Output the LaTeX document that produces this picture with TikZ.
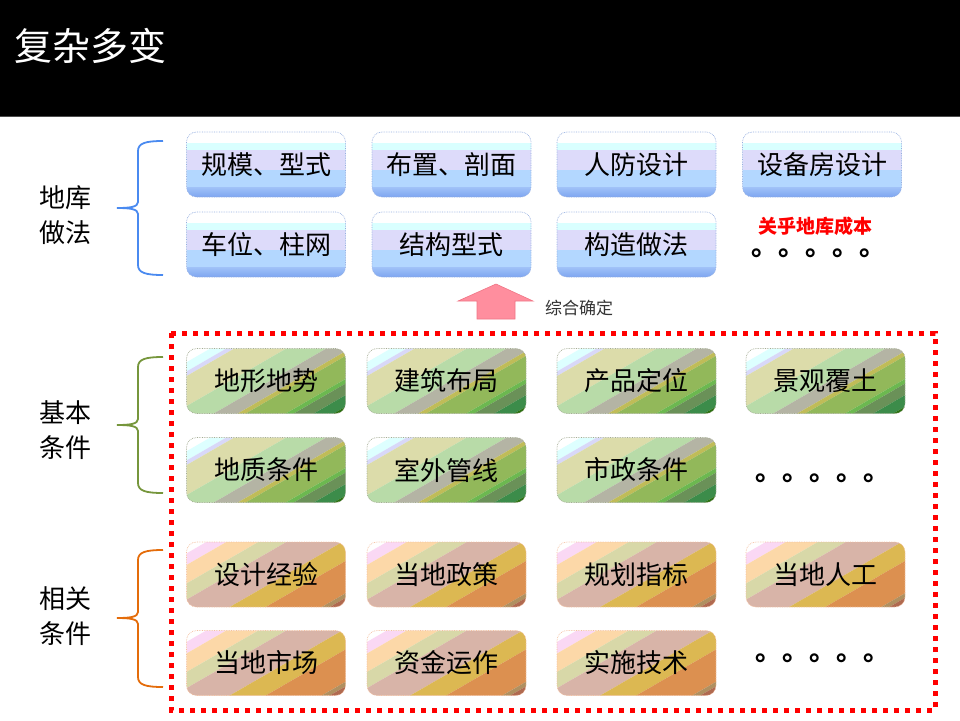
\documentclass[tikz,border=0pt]{standalone}
\usepackage{fontspec}
\newfontfamily\cjk{Noto Sans CJK SC}
\usetikzlibrary{calc}
\definecolor{bwhite}{HTML}{FFFFFF}
\definecolor{bcyan}{HTML}{D9FFFF}
\definecolor{blav}{HTML}{DDDBFA}
\definecolor{blight}{HTML}{B3D7FF}
\definecolor{bmidA}{HTML}{A0C2F8}
\definecolor{bmidB}{HTML}{7CA4F0}
\definecolor{bborder}{HTML}{94AEE0}
\definecolor{gcyan}{HTML}{DDFFFF}
\definecolor{glav}{HTML}{D8D8F8}
\definecolor{gbeige}{HTML}{DCDCAA}
\definecolor{glgreen}{HTML}{B8DBA8}
\definecolor{ggray}{HTML}{B4B4A4}
\definecolor{golive}{HTML}{C0BC58}
\definecolor{ggreen}{HTML}{92B85A}
\definecolor{gbright}{HTML}{6CB850}
\definecolor{ggraygreen}{HTML}{6A9158}
\definecolor{gdark}{HTML}{3C8C4A}
\definecolor{gdarkest}{HTML}{2A7010}
\definecolor{gborder}{HTML}{A4AC94}
\definecolor{opink}{HTML}{FAD8F4}
\definecolor{opeach}{HTML}{FCD8A8}
\definecolor{okhaki}{HTML}{D8D8A8}
\definecolor{omauve}{HTML}{D8B4A8}
\definecolor{ogold}{HTML}{DCB852}
\definecolor{oorange}{HTML}{DC9050}
\definecolor{obrown}{HTML}{B09060}
\definecolor{ored}{HTML}{B06A50}
\definecolor{oborder}{HTML}{F4C0A0}
\definecolor{bracketblue}{HTML}{4A8AF0}
\definecolor{bracketgreen}{HTML}{76963C}
\definecolor{bracketorange}{HTML}{E46C0A}
\definecolor{arrowfill}{HTML}{FF8E9E}
\definecolor{arrowline}{HTML}{F07585}
\definecolor{labelgray}{HTML}{333333}
\tikzset{
  boxbase/.style={rounded corners=10pt, minimum width=159pt, minimum height=65pt,
    inner sep=0pt, densely dotted, line width=0.7pt,
    font=\cjk\fontsize{26}{30}\selectfont, text=black},
  blueframe/.style={boxbase, draw=bborder},
  greenframe/.style={boxbase, draw=gborder},
  orangeframe/.style={boxbase, draw=oborder},
  sidelabel/.style={font=\cjk\fontsize{26}{35}\selectfont, align=center, inner sep=0pt, text=black},
  dots/.style={font=\cjk\bfseries\fontsize{27}{30}\selectfont, inner sep=0pt, anchor=base west,
    text height=6pt, text depth=0pt},
  bracketline/.style={line width=1.8pt},
}
\newcommand\clipbox[2]{\clip[rounded corners=10pt] ($(#1,#2)+(-79.5,32.5)$) rectangle ($(#1,#2)+(79.5,-32.5)$);}
\newcommand\bluebox[4]{% name, cx, cy, text
  \begin{scope}
    \clipbox{#2}{#3}
    \begin{scope}[shift={(#2,#3)}]
      \fill[bwhite] (-90,32.5) rectangle (90,21.5);
      \fill[bcyan] (-90,21.5) rectangle (90,14.5);
      \fill[blav] (-90,14.5) rectangle (90,-5.5);
      \fill[blight] (-90,-5.5) rectangle (90,-22.5);
      \shade[top color=bmidA, bottom color=bmidB] (-90,-22.5) rectangle (90,-33);
    \end{scope}
  \end{scope}
  \node[blueframe] (#1) at (#2,#3) {\raisebox{-4pt}{#4}};}
\newcommand\greenbox[4]{%
  \begin{scope}
    \clipbox{#2}{#3}
    \begin{scope}[shift={(#2,#3)},rotate=-60]
      \foreach \a/\b/\c in {-90/-56/bwhite,-56/-48/gcyan,-48/-44/glav,-44/-18/gbeige,
        -18/2/glgreen,2/14/ggray,14/18/golive,18/38/ggreen,38/42/gbright,
        42/52/ggraygreen,52/62/gdark,62/90/gdarkest}
        \fill[\c] (\a,-120) rectangle (\b,120);
    \end{scope}
  \end{scope}
  \node[greenframe] (#1) at (#2,#3) {\raisebox{-2pt}{#4}};}
\newcommand\orangebox[4]{%
  \begin{scope}
    \clipbox{#2}{#3}
    \begin{scope}[shift={(#2,#3)},rotate=-60]
      \foreach \a/\b/\c in {-90/-58/bwhite,-58/-48/opink,-48/-32/opeach,-32/-18/okhaki,
        -18/10/omauve,10/28/ogold,28/56/oorange,56/60/obrown,60/90/ored}
        \fill[\c] (\a,-120) rectangle (\b,120);
    \end{scope}
  \end{scope}
  \node[orangeframe] (#1) at (#2,#3) {\raisebox{-2pt}{#4}};}
\newcommand\mybrace[4]{% color, top, tip, bottom
  \draw[bracketline, #1] (163,-#2) .. controls (146,-#2) and (138,-#2-2) .. (138,-#2-10)
    -- ($(138,-#3)+(0,6)$) .. controls ($(138,-#3)+(0,1)$) and ($(130,-#3)$) .. (117,-#3)
    .. controls (130,-#3) and ($(138,-#3)+(0,-1)$) .. ($(138,-#3)+(0,-6)$)
    -- (138,-#4+10) .. controls (138,-#4+2) and (146,-#4) .. (163,-#4);}
\begin{document}
\begin{tikzpicture}[x=1pt,y=1pt]
\useasboundingbox (0,0) rectangle (960,-720);
% header
\fill[black] (0,0) rectangle (960,-116);
\draw[black!70, line width=1pt] (0,-116.5) -- (960,-116.5);
\node[anchor=west, text=white, font=\cjk\fontsize{38}{42}\selectfont, inner sep=0pt] (title) at (14,-46) {复杂多变};
% top blue boxes
\bluebox{b1}{266}{-164.5}{规模、型式}
\bluebox{b2}{451.5}{-164.5}{布置、剖面}
\bluebox{b3}{636.5}{-164.5}{人防设计}
\bluebox{b4}{822}{-164.5}{设备房设计}
\bluebox{b5}{266}{-244.5}{车位、柱网}
\bluebox{b6}{451.5}{-244.5}{结构型式}
\bluebox{b7}{636.5}{-244.5}{构造做法}
\node[text=red, font=\cjk\bfseries\fontsize{19}{22}\selectfont, inner sep=0pt,
  anchor=base, text height=15pt, text depth=2pt] (cost) at (815,-233) {关乎地库成本};
\node[dots] (dots1) at (751,-255) {。。。。。};
% arrow
\draw[fill=arrowfill, draw=arrowline, line width=0.6pt] (496,-284) -- (533,-301) -- (515,-301) -- (515,-319) -- (477,-319) -- (477,-301) -- (458,-301) -- cycle;
\node[anchor=west, text=labelgray, font=\cjk\fontsize{17}{20}\selectfont, inner sep=0pt] (decide) at (545,-308) {综合确定};
% red dotted frame
\draw[red, line width=5pt, dash pattern=on 5pt off 6pt] (171,-333) rectangle (935,-710);
% green boxes
\greenbox{g1}{266}{-381}{地形地势}
\greenbox{g2}{446.5}{-381}{建筑布局}
\greenbox{g3}{636.5}{-381}{产品定位}
\greenbox{g4}{825.5}{-381}{景观覆土}
\greenbox{g5}{266}{-470}{地质条件}
\greenbox{g6}{446.5}{-470}{室外管线}
\greenbox{g7}{636.5}{-470}{市政条件}
\node[dots] (dots2) at (755,-480) {。。。。。};
% orange boxes
\orangebox{o1}{266}{-574.5}{设计经验}
\orangebox{o2}{446.5}{-574.5}{当地政策}
\orangebox{o3}{636.5}{-574.5}{规划指标}
\orangebox{o4}{825.5}{-574.5}{当地人工}
\orangebox{o5}{266}{-663}{当地市场}
\orangebox{o6}{446.5}{-663}{资金运作}
\orangebox{o7}{636.5}{-663}{实施技术}
\node[dots] (dots3) at (755,-660) {。。。。。};
% side labels
\node[sidelabel] (l1) at (65,-215.5) {地库\\做法};
\node[sidelabel] (l2) at (65,-430) {基本\\条件};
\node[sidelabel] (l3) at (65,-616.5) {相关\\条件};
% brackets
\mybrace{bracketblue}{141}{208}{275}
\mybrace{bracketgreen}{357}{425}{493}
\mybrace{bracketorange}{550}{618}{687}
\end{tikzpicture}
\end{document}
